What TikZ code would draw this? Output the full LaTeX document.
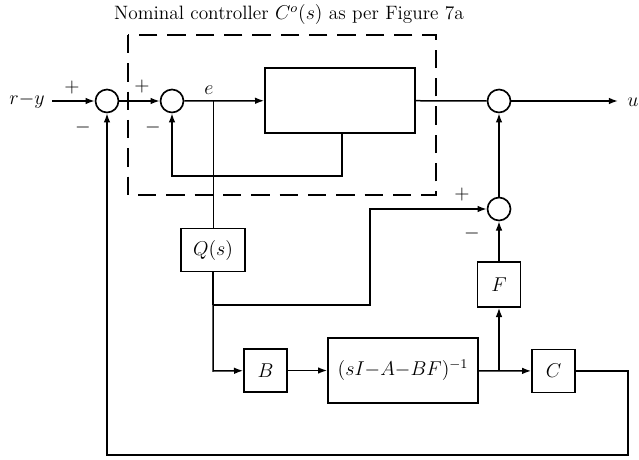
\documentclass[tikz,border=0pt]{standalone}
\usetikzlibrary{arrows.meta}
\begin{document}
\begin{tikzpicture}[x=0.6pt,y=-0.6pt,
  line width=0.9pt,
  font=\fontsize{11.6pt}{14pt}\selectfont,
  sumnode/.style={circle,draw,line width=1pt,minimum size=13.8pt,inner sep=0pt},
  blk/.style={draw,line width=1pt,inner sep=0pt},
  sig/.style={-{Latex[length=5.5pt,width=4pt]}},
  lbl/.style={inner sep=1pt}]
\useasboundingbox (0,0) rectangle (639,460);
% title
\node[lbl] (title) at (289,15) {Nominal controller $C^{o}(s)$ as per Figure 7a};
% dashed box
\draw[line width=1pt,dash pattern=on 11pt off 6pt] (128,35) rectangle (436,195);
% nodes
\node[sumnode] (s1) at (107,101) {};
\node[sumnode] (s2) at (172,101) {};
\node[blk,minimum width=90pt,minimum height=39pt] (K) at (340,100.5) {};
\node[sumnode] (s3) at (499,101) {};
\node[sumnode] (s4) at (499,209) {};
\node[blk,minimum width=38.4pt,minimum height=25.8pt] (Q) at (213,250) {$Q(s)$};
\node[blk,minimum width=25.8pt,minimum height=25.8pt] (B) at (265.5,370.5) {$B$};
\node[blk,minimum width=90pt,minimum height=39pt] (P) at (403,370.5) {$(sI{-}A{-}BF)^{-1}$};
\node[blk,minimum width=25.8pt,minimum height=27pt] (F) at (499,284.5) {$F$};
\node[blk,minimum width=25.8pt,minimum height=25.8pt] (C) at (553.5,371) {$C$};
% coordinates
\coordinate (in) at (52,101);
\coordinate (out) at (618,101);
\coordinate (e) at (213,101);
\coordinate (qb) at (213,305);
\coordinate (q1) at (370,305);
\coordinate (q2) at (370,209);
\coordinate (bq) at (213,371);
\coordinate (pb) at (499,371);
\coordinate (kf) at (342,176);
\coordinate (fb1) at (628,371);
\coordinate (fb2) at (628,455);
\coordinate (fb3) at (107,455);
% labels
\node[lbl] (ry) at (27,101) {$r{-}y$};
\node[lbl] (u) at (633,102) {$u$};
\node[lbl] (p1) at (72,88) {$+$};
\node[lbl] (m1) at (83,128) {$-$};
\node[lbl] (p2) at (142,87) {$+$};
\node[lbl] (m2) at (153,128) {$-$};
\node[lbl] (el) at (209,90) {$e$};
\node[lbl] (p4) at (462,195) {$+$};
\node[lbl] (m4) at (472,233) {$-$};
% connectors
\draw[sig] (in) -- (s1);
\draw[sig] (s1) -- (s2);
\draw[sig] (s2) -- (K);
\draw[sig] (K.south -| kf) -- (kf) -| (s2);
\draw (K) -- (s3);
\draw[sig] (s3) -- (out);
\draw[sig] (s4) -- (s3);
\draw[line width=0.6pt] (e) -- (Q);
\draw[line width=0.7pt] (Q) -- (qb);
\draw[sig] (qb) -- (q1) -- (q2) -- (s4);
\draw[sig] (qb) -- (bq) -- (B);
\draw[sig] (B) -- (P);
\draw[sig] (P) -- (C);
\draw[sig] (pb) -- (F);
\draw[sig] (F) -- (s4);
\draw[sig] (C) -- (fb1) -- (fb2) -- (fb3) -- (s1);
\end{tikzpicture}
\end{document}
